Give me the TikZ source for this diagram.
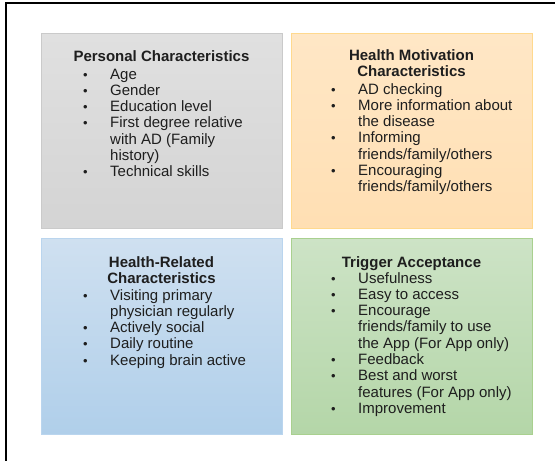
\documentclass[tikz,border=0pt]{standalone}
\usepackage{fontspec}
\setmainfont{Liberation Sans}

\definecolor{greytop}{HTML}{E0E0E0}
\definecolor{greybot}{HTML}{D4D4D4}
\definecolor{greyline}{HTML}{CACACA}
\definecolor{orangetop}{HTML}{FFE7C6}
\definecolor{orangebot}{HTML}{FFDFB3}
\definecolor{orangeline}{HTML}{FFD98E}
\definecolor{bluetop}{HTML}{CFE0F0}
\definecolor{bluebot}{HTML}{B0CFEA}
\definecolor{blueline}{HTML}{BAD5EE}
\definecolor{greentop}{HTML}{CDE3C6}
\definecolor{greenbot}{HTML}{B4D6A8}
\definecolor{greenline}{HTML}{A9D08F}
\definecolor{ink}{HTML}{1E1E1E}

\newcommand{\bul}{{\fontsize{13}{13}\selectfont\textbullet}}

\begin{document}
\begin{tikzpicture}[x=1pt, y=-1pt,
    every node/.append style={text=ink, font=\fontsize{15}{16.3}\selectfont},
    quad/.style n args={3}{draw=#1, top color=#2, bottom color=#3, line width=1pt,
      anchor=north west, inner sep=0pt, outer sep=0pt,
      minimum width=241pt, minimum height=195pt},
    head/.style={anchor=base, align=center, inner sep=0pt,
      font=\fontsize{15}{16.3}\selectfont\bfseries},
    list/.style={anchor=base west, inner sep=0pt}]
  \useasboundingbox (0,0) rectangle (555,461);
  \draw [line width=2pt] (6,461) -- (6,3) -- (555,3);

  \node [quad={greyline}{greytop}{greybot}] (personal) at (41,33) {};
  \node [quad={orangeline}{orangetop}{orangebot}] (motivation) at (291,33) {};
  \node [quad={blueline}{bluetop}{bluebot}, minimum height=196pt] (related) at (41,238) {};
  \node [quad={greenline}{greentop}{greenbot}, minimum height=196pt] (trigger) at (291,238) {};

  \node [head] (personalhead) at ([yshift=-28pt]personal.north) {Personal Characteristics};
  \node [list] (personallist) at ([shift={(42,46)}]personal.north west) {%
    \begin{tabular}[t]{@{}p{27pt}@{}l@{}}
      \bul & Age\\
      \bul & Gender\\
      \bul & Education level\\
      \bul & First degree relative\\
           & with AD (Family\\
           & history)\\
      \bul & Technical skills
    \end{tabular}};

  \node [head] (motivationhead) at ([yshift=-43.3pt]motivation.north) {Health Motivation\\Characteristics};
  \node [list] (motivationlist) at ([shift={(40,61)}]motivation.north west) {%
    \begin{tabular}[t]{@{}p{27pt}@{}l@{}}
      \bul & AD checking\\
      \bul & More information about\\
           & the disease\\
      \bul & Informing\\
           & friends/family/others\\
      \bul & Encouraging\\
           & friends/family/others
    \end{tabular}};

  \node [head] (relatedhead) at ([yshift=-45.3pt]related.north) {Health-Related\\Characteristics};
  \node [list] (relatedlist) at ([shift={(42,62)}]related.north west) {%
    \begin{tabular}[t]{@{}p{27pt}@{}l@{}}
      \bul & Visiting primary\\
           & physician regularly\\
      \bul & Actively social\\
      \bul & Daily routine\\
      \bul & Keeping brain active
    \end{tabular}};

  \node [head] (triggerhead) at ([yshift=-29pt]trigger.north) {Trigger Acceptance};
  \node [list] (triggerlist) at ([shift={(40,45)}]trigger.north west) {%
    \begin{tabular}[t]{@{}p{27pt}@{}l@{}}
      \bul & Usefulness\\
      \bul & Easy to access\\
      \bul & Encourage\\
           & friends/family to use\\
           & the App (For App only)\\
      \bul & Feedback\\
      \bul & Best and worst\\
           & features (For App only)\\
      \bul & Improvement
    \end{tabular}};
\end{tikzpicture}
\end{document}
